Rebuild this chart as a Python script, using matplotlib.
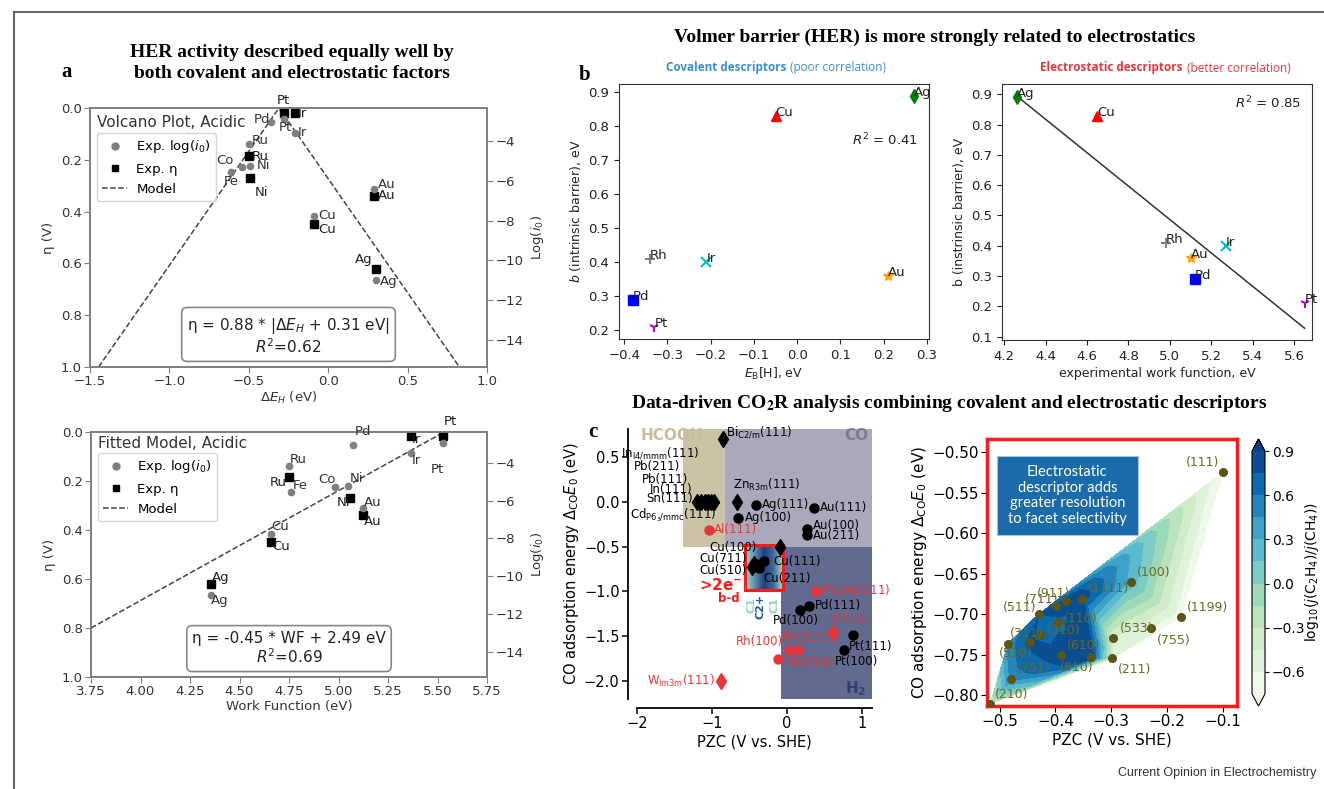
import matplotlib
matplotlib.use("Agg")
import matplotlib.pyplot as plt
import numpy as np
from matplotlib.patches import Rectangle
from matplotlib.lines import Line2D
from matplotlib.colors import LinearSegmentedColormap

W, H = 1324, 789

# ---------------- panel a data ----------------
# volcano (top): squares = exp. overpotential, circles = exp. log(i0)
a1_sq_names = ['Pt', 'Ir', 'Ru', 'Ni', 'Cu', 'Au', 'Ag']
a1_sq_dEH = [-0.28, -0.21, -0.50, -0.49, -0.09, 0.29, 0.30]
a1_sq_eta = [0.02, 0.02, 0.185, 0.269, 0.448, 0.339, 0.622]
a1_c_names = ['Pt', 'Ir', 'Pd', 'Ru', 'Ni', 'Co', 'Fe', 'Cu', 'Au', 'Ag']
a1_c_dEH = [-0.28, -0.21, -0.36, -0.50, -0.49, -0.545, -0.61, -0.09, 0.29, 0.30]
a1_c_logi = [-2.91, -3.58, -3.03, -4.17, -5.26, -5.32, -5.57, -7.77, -6.43, -10.98]
a1_model_x = [-1.446, -0.31, 0.826]
a1_model_eta = [1.0, 0.0, 1.0]

# work function (bottom)
a2_sq_names = ['Ag', 'Cu', 'Ru', 'Ni', 'Au', 'Ir', 'Pt']
a2_sq_wf = [4.355, 4.66, 4.75, 5.06, 5.125, 5.366, 5.526]
a2_sq_eta = [0.62, 0.448, 0.182, 0.268, 0.339, 0.016, 0.016]
a2_c_names = ['Pd', 'Ru', 'Fe', 'Co', 'Ni', 'Au', 'Cu', 'Ag', 'Ir', 'Pt']
a2_c_wf = [5.075, 4.75, 4.76, 4.98, 5.05, 5.125, 4.66, 4.355, 5.366, 5.526]
a2_c_logi = [-3.05, -4.16, -5.55, -5.25, -5.2, -6.4, -7.76, -10.98, -3.49, -2.93]
a2_model_wf = [3.75, 5.52]
a2_model_eta = [0.80, 0.006]

# label offsets (pixels)
a1_sq_off = [(0, 13, 'center'), (3, 0, 'left'), (3, -1, 'left'), (4, -15, 'left'),
             (4, -5, 'left'), (4, 0, 'left'), (-3, 10, 'right')]
a1_c_off = [(2, -8, 'center'), (3, 0, 'left'), (-1, 2, 'right'), (3, 4, 'left'),
            (6, 0, 'left'), (-8, 7, 'right'), (-8, -9, 'left'), (4, 0, 'left'),
            (4, 5, 'left'), (4, -2, 'left')]
a2_sq_off = [(1, 6, 'left'), (1, -5, 'left'), (-2, -6, 'right'), (0, -5, 'right'),
             (1, -6, 'left'), (1, -4, 'left'), (1, 14, 'left')]
a2_c_off = [(1, 14, 'left'), (1, 7, 'left'), (2, 7, 'left'), (-16, 7, 'left'),
            (1, 7, 'left'), (1, 6, 'left'), (0, 7, 'left'), (0, -6, 'left'),
            (1, -7, 'left'), (-12, -27, 'left')]

# ---------------- panel b data ----------------
b_names = ['Ag', 'Cu', 'Rh', 'Ir', 'Au', 'Pd', 'Pt']
b_markers = ['d', '^', '+', 'x', '*', 's', '1']
b_colors = ['green', 'red', 'grey', 'c', 'orange', 'blue', 'm']
b_ebh = [0.27, -0.05, -0.34, -0.21, 0.21, -0.38, -0.33]
b_wf = [4.26, 4.65, 4.98, 5.27, 5.10, 5.12, 5.65]
b_barrier = [0.89, 0.83, 0.41, 0.40, 0.36, 0.29, 0.21]
b_fit_wf = [4.26, 5.65]
b_fit_barrier = [0.895, 0.128]

# ---------------- panel c (left) data ----------------
c_blk_c_pzc = [-0.41, -0.65, 0.36, 0.26, 0.26, 0.29, 0.17, 0.88, 0.76, -0.31, -0.37, -0.40]
c_blk_c_e = [-0.04, -0.18, -0.07, -0.31, -0.37, -1.16, -1.21, -1.49, -1.65, -0.66, -0.74, -0.70]
c_blk_d_pzc = [-0.86, -1.20, -1.15, -1.10, -1.06, -1.02, -0.97, -0.67, -0.10, -0.47, -0.44]
c_blk_d_e = [0.70, 0.0, 0.0, 0.0, 0.0, 0.0, 0.0, 0.0, -0.51, -0.73, -0.70]
c_red_c_pzc = [-1.04, 0.38, 0.15, 0.03, -0.12]
c_red_c_e = [-0.32, -1.00, -1.65, -1.65, -1.75]
c_red_d_pzc = [0.61, -0.88]
c_red_d_e = [-1.46, -2.00]

c_labels = [
    ('Bi$_{\\rm C2/m}$(111)', -0.808, 0.778, 'left', 'k'),
    ('In$_{\\rm I4/mmm}$(111)', -1.164, 0.541, 'right', 'k'),
    ('Pb(211)', -1.431, 0.389, 'right', 'k'),
    ('Pb(111)', -1.324, 0.252, 'right', 'k'),
    ('In(111)', -1.257, 0.141, 'right', 'k'),
    ('Sn(111)', -1.257, 0.030, 'right', 'k'),
    ('Cd$_{\\rm P6_3/mmc}$(111)', -0.941, -0.148, 'right', 'k'),
    ('Zn$_{\\rm R3m}$(111)', -0.72, 0.186, 'left', 'k'),
    ('Ag(111)', -0.333, -0.037, 'left', 'k'),
    ('Ag(100)', -0.564, -0.173, 'left', 'k'),
    ('Au(111)', 0.436, -0.067, 'left', 'k'),
    ('Au(100)', 0.339, -0.27, 'left', 'k'),
    ('Au(211)', 0.339, -0.381, 'left', 'k'),
    ('Al(111)', -0.973, -0.314, 'left', 'r'),
    ('Cu(100)', -0.404, -0.507, 'right', 'k'),
    ('Cu(711)', -0.541, -0.637, 'right', 'k'),
    ('Cu(510)', -0.541, -0.77, 'right', 'k'),
    ('Cu(111)', -0.187, -0.667, 'left', 'k'),
    ('Cu(211)', -0.311, -0.862, 'left', 'k'),
    ('Pd$_3$Au(111)', 0.467, -0.992, 'left', 'r'),
    ('Pd(111)', 0.369, -1.156, 'left', 'k'),
    ('Pd(100)', -0.187, -1.322, 'left', 'k'),
    ('Ir(111)', 0.569, -1.307, 'left', 'r'),
    ('Rh(100)', -0.061, -1.562, 'right', 'r'),
    ('Rh(111)', -0.061, -1.518, 'left', 'r'),
    ('Rh(211)', -0.017, -1.796, 'left', 'r'),
    ('Pt(111)', 0.827, -1.618, 'left', 'k'),
    ('Pt(100)', 0.636, -1.784, 'left', 'k'),
    ('W$_{\\rm Im3m}$(111)', -0.964, -2.0, 'right', 'r'),
]

# product regions: (x0, x1, y0, y1)
reg_hcooh = (-1.39, -0.83, -0.5, 0.81)
reg_co = (-0.83, 1.13, -0.5, 0.81)
reg_h2 = (-0.08, 1.13, -2.2, -0.5)
reg_cu = (-0.555, -0.055, -0.99, -0.48)

# ---------------- panel c (right) data ----------------
cu_facets = ['(111)', '(100)', '(1199)', '(533)', '(755)', '(211)', '(1111)', '(911)', '(711)',
             '(511)', '(110)', '(310)', '(311)', '(510)', '(610)', '(810)', '(751)', '(210)']
cu_pzc = [-0.10, -0.265, -0.175, -0.297, -0.228, -0.298, -0.353, -0.381, -0.399,
          -0.43, -0.396, -0.427, -0.445, -0.485, -0.336, -0.39, -0.48, -0.517]
cu_eco = [-0.525, -0.66, -0.703, -0.729, -0.717, -0.754, -0.681, -0.684, -0.69,
          -0.70, -0.71, -0.725, -0.734, -0.736, -0.753, -0.75, -0.78, -0.81]
cu_ratio = [-0.75, 0.25, -0.7, -0.45, -0.6, -0.45, 0.85, 0.9, 0.85,
            0.75, 0.7, 0.65, 0.8, 0.5, 0.9, 0.85, 0.5, -0.3]
cu_off = [(-3, 10, 'right'), (6, 9, 'left'), (6, 9, 'left'), (7, 9, 'left'), (6, -12, 'left'),
          (6, -11, 'left'), (6, 10, 'left'), (-29, 8, 'left'), (-31, 7, 'left'),
          (-2, 7, 'right'), (6, 4, 'left'), (6, 4, 'left'), (-21, 8, 'left'),
          (-9, -10, 'left'), (-24, 12, 'left'), (-1, -13, 'left'), (6, 11, 'left'), (5, 9, 'left')]


def frac(px0, py0, px1, py1):
    return [px0 / W, 1 - py1 / H, (px1 - px0) / W, (py1 - py0) / H]


fig = plt.figure(figsize=(W / 100, H / 100), dpi=100)

serif = 'Liberation Serif'
grey_sp = '#808080'


def her_panel(rect, sq_x, sq_eta, sq_names, sq_off, c_x, c_logi, c_names, c_off,
              mx, my, title, eq, r2, xlim, xticks, xlabel, legy, boxy):
    ax = fig.add_axes(rect)
    ax2 = ax.twinx()
    ax.plot(mx, my, '--', color='#444', lw=1.1, zorder=1)
    ax.plot(sq_x, sq_eta, 's', color='black', ms=5.5, zorder=3)
    ax2.plot(c_x, c_logi, 'o', color='grey', ms=4.5, zorder=3)
    for n, x, y, (dx, dy, ha) in zip(sq_names, sq_x, sq_eta, sq_off):
        ax.annotate(n, (x, y), xytext=(dx, dy), textcoords='offset pixels',
                    ha=ha, va='center', fontsize=9.5, color='#222', annotation_clip=False)
    for n, x, y, (dx, dy, ha) in zip(c_names, c_x, c_logi, c_off):
        ax2.annotate(n, (x, y), xytext=(dx, dy), textcoords='offset pixels',
                     ha=ha, va='center', fontsize=9.5, color='#333', annotation_clip=False)
    ax.set_xlim(*xlim)
    ax.set_ylim(1.0, 0.0)
    ax.set_xticks(xticks)
    ax.set_yticks([0.0, 0.2, 0.4, 0.6, 0.8, 1.0])
    ax2.set_ylim(-15.35, -2.35)
    ax2.set_yticks([-4, -6, -8, -10, -12, -14])
    ax.set_xlabel(xlabel, fontsize=9.5, color='#333', labelpad=1)
    ax.set_ylabel('η (V)', fontsize=9.5, color='#333', labelpad=4)
    ax2.set_ylabel('Log($i_0$)', fontsize=9.5, color='#333', labelpad=4)
    for a in (ax, ax2):
        for s in a.spines.values():
            s.set_color(grey_sp)
            s.set_linewidth(1.3)
        a.tick_params(labelsize=9.5, colors='#333', length=4, color=grey_sp, pad=2)
    ax.text(0.017, legy + 0.04, title, transform=ax.transAxes, fontsize=11,
            color='#333', va='center')
    handles = [Line2D([], [], ls='', marker='o', color='grey', ms=5),
               Line2D([], [], ls='', marker='s', color='black', ms=5),
               Line2D([], [], ls='--', color='#444', lw=1.1)]
    leg = ax.legend(handles, ['Exp. log($i_0$)', 'Exp. η', 'Model'], loc='upper left',
                    bbox_to_anchor=(0.017, legy), borderaxespad=0, fontsize=9.5,
                    frameon=True, handlelength=1.9, handletextpad=0.7,
                    borderpad=0.4, labelspacing=0.55)
    leg.get_frame().set_edgecolor('#ccc')
    leg.set_zorder(5)
    ax.text(0.5, boxy, eq + '\n' + r2, transform=ax.transAxes, fontsize=11,
            ha='center', va='center', color='#222', linespacing=1.1,
            bbox=dict(boxstyle='round,pad=0.35', fc='white', ec='#888', lw=1.2))
    return ax


her_panel(frac(90, 108, 487, 367), a1_sq_dEH, a1_sq_eta, a1_sq_names, a1_sq_off,
          a1_c_dEH, a1_c_logi, a1_c_names, a1_c_off, a1_model_x, a1_model_eta,
          'Volcano Plot, Acidic', 'η = 0.88 * |$\\Delta E_H$ + 0.31 eV|', '$R^2$=0.62',
          (-1.5, 1.0), [-1.5, -1.0, -0.5, 0.0, 0.5, 1.0], '$\\Delta E_H$ (eV)', 0.903, 0.12)
her_panel(frac(91, 432, 487, 677), a2_sq_wf, a2_sq_eta, a2_sq_names, a2_sq_off,
          a2_c_wf, a2_c_logi, a2_c_names, a2_c_off, a2_model_wf, a2_model_eta,
          'Fitted Model, Acidic', 'η = -0.45 * WF + 2.49 eV', '$R^2$=0.69',
          (3.75, 5.75), [3.75, 4.0, 4.25, 4.5, 4.75, 5.0, 5.25, 5.5, 5.75],
          'Work Function (eV)', 0.914, 0.116)

# ---------------- panel b ----------------
def barrier_panel(rect, xs, xlim, xticks, ylim, yticks, xlabel, ylabel, r2pos, r2txt):
    ax = fig.add_axes(rect)
    for n, m, c, x, y in zip(b_names, b_markers, b_colors, xs, b_barrier):
        ax.plot(x, y, ls='', marker=m, color=c, ms=7, mew=1.5 if m in '+x1' else 1)
        ax.text(x, y, n, fontsize=9.5, color='#222')
    ax.set_xlim(*xlim)
    ax.set_ylim(*ylim)
    ax.set_xticks(xticks)
    ax.set_yticks(yticks)
    ax.set_xlabel(xlabel, fontsize=9, color='#222', labelpad=3)
    ax.set_ylabel(ylabel, fontsize=9, color='#222', labelpad=4)
    ax.tick_params(labelsize=9.5, colors='#222', length=3.5)
    for s in ax.spines.values():
        s.set_color('#333')
    ax.text(r2pos[0], r2pos[1], r2txt, transform=ax.transAxes, fontsize=9.5,
            ha='center', va='center', color='#222')
    return ax


axb1 = barrier_panel(frac(619, 84, 929, 339), b_ebh, (-0.412, 0.305),
                     [-0.4, -0.3, -0.2, -0.1, 0.0, 0.1, 0.2, 0.3], (0.174, 0.924),
                     [0.2, 0.3, 0.4, 0.5, 0.6, 0.7, 0.8, 0.9], '$E_{\\rm B}$[H], eV',
                     '$b$ (intrinsic barrier), eV', (0.858, 0.78), '$R^2$ = 0.41')
axb2 = barrier_panel(frac(1002, 84, 1312, 340), b_wf, (4.19, 5.686),
                     [4.2, 4.4, 4.6, 4.8, 5.0, 5.2, 5.4, 5.6], (0.089, 0.934),
                     [0.1, 0.2, 0.3, 0.4, 0.5, 0.6, 0.7, 0.8, 0.9],
                     'experimental work function, eV', 'b (instrinsic barrier), eV',
                     (0.858, 0.926), '$R^2$ = 0.85')
axb2.plot(b_fit_wf, b_fit_barrier, color='#333', lw=1.1, zorder=0)

sub_font = 'Open Sans'
fig.text(787 / W, 1 - 68 / H, 'Covalent descriptors', fontsize=8.5, fontweight='bold',
         family=sub_font, color='#3a8fd0', ha='right', va='center')
fig.text(790 / W, 1 - 68 / H, '(poor correlation)', fontsize=8.5, family=sub_font,
         color='#3a8fd0', ha='left', va='center')
fig.text(1183 / W, 1 - 68 / H, 'Electrostatic descriptors', fontsize=8.5, fontweight='bold',
         family=sub_font, color='#e8373a', ha='right', va='center')
fig.text(1187 / W, 1 - 68 / H, '(better correlation)', fontsize=8.5, family=sub_font,
         color='#e8373a', ha='left', va='center')

# ---------------- panel c left ----------------
axc = fig.add_axes(frac(637, 429, 872, 699))
for (x0, x1, y0, y1), col in [(reg_hcooh, '#cbc3a6'), (reg_co, '#aaa9bb'), (reg_h2, '#636a90')]:
    axc.add_patch(Rectangle((x0, y0), x1 - x0, y1 - y0, fc=col, ec='none', zorder=0))
grad_cmap = LinearSegmentedColormap.from_list('cu', ['#a6dcc4', '#5d8fb0', '#243f78', '#3c6a9a', '#a6dcc4'])
grad = np.linspace(0, 1, 200).reshape(1, -1)
x0, x1, y0, y1 = reg_cu
axc.imshow(grad, cmap=grad_cmap, extent=(x0, x1, y0, y1), aspect='auto', zorder=1)
axc.add_patch(Rectangle((x0, y0), x1 - x0, y1 - y0, fc='none', ec='#ff1a1a', lw=2.2, zorder=2))

axc.plot(c_blk_c_pzc, c_blk_c_e, 'o', color='black', ms=6.5, zorder=4)
axc.plot(c_blk_d_pzc, c_blk_d_e, 'd', color='black', ms=8, zorder=4)
axc.plot(c_red_c_pzc, c_red_c_e, 'o', color='#e8343a', ms=6.5, zorder=4)
axc.plot(c_red_d_pzc, c_red_d_e, 'd', color='#e8343a', ms=8, zorder=4)
for t, x, y, ha, col in c_labels:
    axc.text(x, y, t, ha=ha, va='center', fontsize=8.5,
             color='#e8343a' if col == 'r' else 'black', zorder=5)
axc.text(-0.587, -0.926, '>2e$^{\\mathbf{-}}$', ha='right', va='center', fontsize=11,
         fontweight='bold', color='#ff1a1a')
axc.text(-0.631, -1.081, 'b-d', ha='right', va='center', fontsize=8.5,
         fontweight='bold', color='#ff1a1a')
axc.text(-0.475, -1.15, 'C1', rotation=90, ha='center', va='center', fontsize=8,
         fontweight='bold', color='#8fd6b4')
axc.text(-0.351, -1.165, 'C2+', rotation=90, ha='center', va='center', fontsize=8,
         fontweight='bold', color='#1c5aa6')
axc.text(-0.164, -1.15, 'C1', rotation=90, ha='center', va='center', fontsize=8,
         fontweight='bold', color='#8fd6b4')
axc.text(-1.541, 0.741, 'HCOOH', ha='center', va='center', fontsize=11,
         fontweight='bold', color='#c8bc9a')
axc.text(1.076, 0.741, 'CO', ha='right', va='center', fontsize=11,
         fontweight='bold', color='#7d7b92')
axc.text(1.05, -2.09, 'H$_\\mathbf{2}$', ha='right', va='center', fontsize=11,
         fontweight='bold', color='#2f3f72')
axc.set_xlim(-2.0, 1.13)
axc.set_ylim(-2.2, 0.81)
axc.set_xticks([-2, -1, 0, 1])
axc.set_yticks([-2.0, -1.5, -1.0, -0.5, 0.0, 0.5])
for s in ['top', 'right']:
    axc.spines[s].set_visible(False)
for s in ['left', 'bottom']:
    axc.spines[s].set_position(('outward', 6.5))
    axc.spines[s].set_linewidth(1.3)
axc.tick_params(labelsize=10.5, length=4, width=1.1, pad=2)
axc.set_xlabel('PZC (V vs. SHE)', fontsize=10.5, labelpad=2)
axc.set_ylabel('CO adsorption energy $\\Delta_{\\rm CO}E_0$ (eV)', fontsize=10.5, labelpad=2)

# ---------------- panel c right ----------------
axr = fig.add_axes(frac(987, 439, 1237, 706))
levels = np.arange(-0.75, 0.91, 0.15)
cf = axr.tricontourf(cu_pzc, cu_eco, cu_ratio, levels=levels, cmap='GnBu', extend='both')
axr.plot(cu_pzc, cu_eco, 'o', color='#5b5616', ms=5.5, zorder=4)
for n, x, y, (dx, dy, ha) in zip(cu_facets, cu_pzc, cu_eco, cu_off):
    axr.annotate(n, (x, y), xytext=(dx, dy), textcoords='offset pixels', ha=ha,
                 va='center', fontsize=9, color='#6b6820', zorder=5)
axr.set_xlim(-0.523, -0.074)
axr.set_ylim(-0.813, -0.484)
axr.set_xticks([-0.5, -0.4, -0.3, -0.2, -0.1])
axr.set_yticks([-0.50, -0.55, -0.60, -0.65, -0.70, -0.75, -0.80])
axr.set_yticklabels(['−0.50', '−0.55', '−0.60', '−0.65', '−0.70', '−0.75', '−0.80'])
for s in axr.spines.values():
    s.set_color('#ff1a1a')
    s.set_linewidth(2.5)
axr.tick_params(labelsize=11, length=4, pad=2)
axr.set_xlabel('PZC (V vs. SHE)', fontsize=11, labelpad=2)
axr.set_ylabel('CO adsorption energy $\\Delta_{\\rm CO}E_0$ (eV)', fontsize=11, labelpad=2)
axr.add_patch(Rectangle((0.038, 0.641), 0.567, 0.296, transform=axr.transAxes,
                        fc='#1b6aa9', ec='#9ec3e0', lw=0.8, zorder=6))
axr.text(0.321, 0.789, 'Electrostatic\ndescriptor adds\ngreater resolution\nto facet selectivity',
         transform=axr.transAxes, ha='center', va='center', fontsize=10.5, family='Lato',
         color='white', linespacing=1.15, zorder=7)

cax = fig.add_axes(frac(1252, 439, 1265, 706))
cb = fig.colorbar(cf, cax=cax)
cb.set_ticks([-0.6, -0.3, 0.0, 0.3, 0.6, 0.9])
cb.ax.tick_params(labelsize=10, length=3, pad=2)
cb.outline.set_linewidth(0.8)
fig.text(1312 / W, 1 - 572 / H, 'log$_{10}$($j$(C$_2$H$_4$)/$j$(CH$_4$))', rotation=90,
         ha='center', va='center', fontsize=10)

# ---------------- titles and frame ----------------
fig.text(292 / W, 1 - 63 / H, 'HER activity described equally well by\nboth covalent and electrostatic factors',
         ha='center', va='center', fontsize=14, fontweight='bold', family=serif, linespacing=1.3)
fig.text(935 / W, 1 - 37 / H, 'Volmer barrier (HER) is more strongly related to electrostatics',
         ha='center', va='center', fontsize=14, fontweight='bold', family=serif)
fig.text(949 / W, 1 - 404 / H,
         'Data-driven CO$_\\mathbf{2}$R analysis combining covalent and electrostatic descriptors',
         ha='center', va='center', fontsize=14, fontweight='bold', family=serif,
         math_fontfamily='stix')
for lab, px, py in [('a', 67, 72), ('b', 585, 75), ('c', 593, 432)]:
    fig.text(px / W, 1 - py / H, lab, ha='center', va='center', fontsize=15,
             fontweight='bold', family=serif)
fig.text(1316 / W, 1 - 773 / H, 'Current Opinion in Electrochemistry', ha='right',
         va='center', fontsize=9, family='Liberation Sans', color='#333')
fig.add_artist(Line2D([14 / W, 1.0], [1 - 12 / H, 1 - 12 / H], color='#666', lw=1.5))
fig.add_artist(Line2D([14 / W, 14 / W], [0.0, 1 - 12 / H], color='#666', lw=1.5))

fig.savefig('out.png', dpi=100)
